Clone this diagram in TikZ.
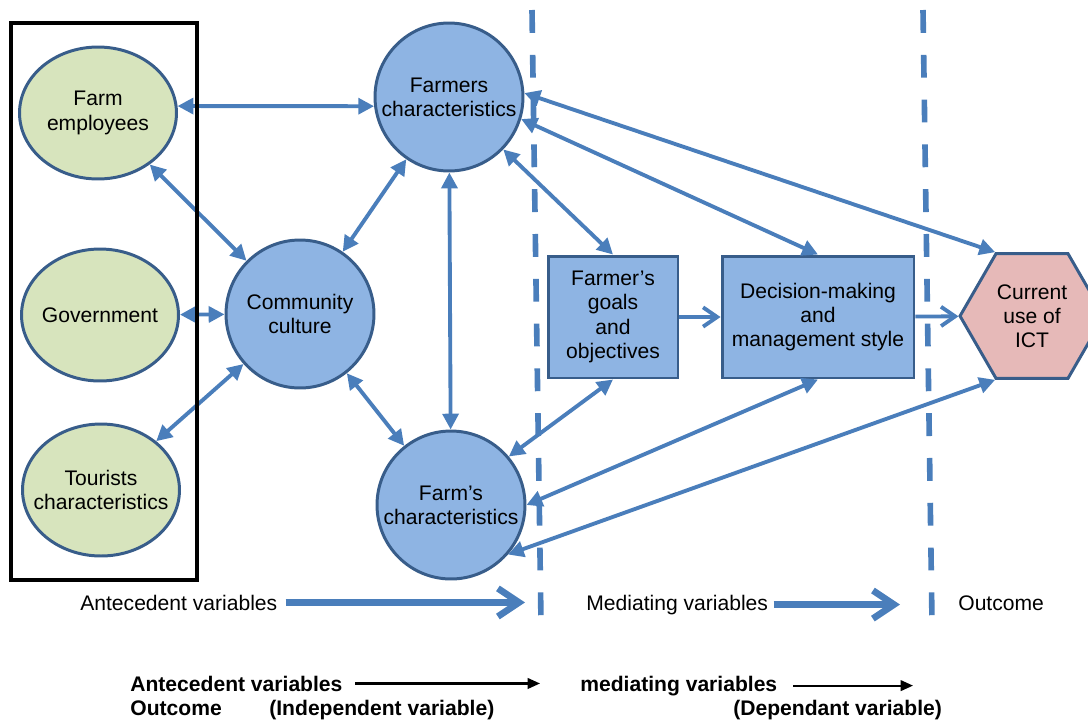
\documentclass[tikz,border=0pt]{standalone}
\usepackage{fontspec}
\setmainfont{Liberation Sans}
\usetikzlibrary{arrows.meta,shapes.geometric}
\definecolor{LinkBlue}{HTML}{4A7EBB}
\definecolor{BorderBlue}{HTML}{385D8A}
\definecolor{FillGreen}{HTML}{D7E4BD}
\definecolor{FillBlue}{HTML}{8EB4E3}
\definecolor{FillPink}{HTML}{E6B9B8}

\begin{document}
\begin{tikzpicture}[x=0.02cm,y=-0.02cm,font=\fontsize{12}{13.8}\selectfont,
        actornode/.style={ellipse,draw=BorderBlue,fill=FillGreen,line width=1.7pt,minimum width=3.14cm,minimum height=2.64cm,inner xsep=-9pt,inner ysep=0pt,align=center},
        factornode/.style={circle,draw=BorderBlue,fill=FillBlue,line width=1.7pt,minimum size=2.96cm,inner sep=0pt,align=center},
        stagebox/.style={rectangle,draw=BorderBlue,fill=FillBlue,line width=1.7pt,minimum height=2.44cm,inner sep=0pt,align=center},
        resulthex/.style={regular polygon,regular polygon sides=6,draw=BorderBlue,fill=FillPink,line width=1.7pt,minimum size=2.88cm,inner sep=0pt,align=center},
        twoway/.style={{Triangle[length=9pt,width=9pt]}-{Triangle[length=9pt,width=9pt]},draw=LinkBlue,line width=2.2pt},
        oneway/.style={-{Straight Barb[length=8pt,width=11pt]},draw=LinkBlue,line width=2.2pt},
        phasearrow/.style={-{Straight Barb[length=12pt,width=16pt]},draw=LinkBlue,line width=3.8pt},
        keyarrow/.style={-{Triangle[length=7pt,width=6pt]},line width=1.2pt},
        divider/.style={draw=LinkBlue,line width=3.2pt,dash pattern=on 13pt off 12.5pt},
        lbl/.style={inner sep=0pt,anchor=base west},
        boldlbl/.style={lbl,font=\fontsize{12}{13.8}\selectfont\bfseries}]
        \useasboundingbox (0,0) rectangle (1088,721);
        % antecedents
        \node[actornode] (femp) at (98,113) {Farm\\employees};
        \node[actornode] (gov) at (100,315) {Government};
        \node[actornode] (tour) at (101,490) {Tourists\\characteristics};
        \node[factornode] (comm) at (300,314) {Community\\culture};
        \node[factornode] (fchar) at (449,97) {Farmers\\characteristics};
        \node[factornode] (farms) at (451,505) {Farm’s\\characteristics};
        % mediating and outcome
        \node[stagebox,minimum width=2.6cm] (goals) at (613,317) {Farmer’s\\goals\\and\\objectives};
        \node[stagebox,minimum width=3.84cm] (dec) at (818,317) {Decision-making\\and\\management style};
        \node[resulthex] (hex) at (1032,316) {Current\\use of\\ICT};
        \draw[twoway] (femp.5) -- (fchar.187);
        \draw[twoway] (femp) -- (comm);\draw[twoway] (gov) -- (comm);\draw[twoway] (tour) -- (comm);
        \draw[twoway] (comm) -- (fchar);\draw[twoway] (comm) -- (farms);\draw[twoway] (fchar) -- (farms);
        \draw[twoway] (fchar.-44) -- (goals.north);
        \draw[twoway] (fchar.-17) -- (dec.north);
        \draw[twoway] (fchar.3) -- (hex.120);
        \draw[twoway] (farms.40) -- (goals.south);
        \draw[twoway] (farms.0) -- (dec.south);
        \draw[twoway] (farms.-41) -- (hex.240);
        \draw[oneway] (goals) -- (dec);\draw[oneway] (dec) -- (hex);
        \draw[line width=2.2pt] (11,23) rectangle (197,580);
        \draw[divider] (532,10) -- (541,622);
        \draw[divider] (923,10) -- (932,622);
        % legend rows
        \node[lbl] (antA) at (80,610) {Antecedent variables};
        \node[lbl] (medA) at (586,610) {Mediating variables};
        \node[lbl] (outA) at (958,610) {Outcome};
        \coordinate (antAEnd) at (525,603);
        \coordinate (medAEnd) at (900,603);
        \draw[phasearrow,shorten <=4.5pt] (antA.east) -- (antA.east -| antAEnd);
        \draw[phasearrow,shorten <=3pt] (medA.east) -- (medA.east -| medAEnd);
        \node[boldlbl] (antB) at (130,691) {Antecedent variables};
        \node[boldlbl] (medB) at (580,691) {mediating variables};
        \node[boldlbl] (outB) at (130,715) {Outcome};
        \node[boldlbl] (indB) at (269,715) {(Independent variable)};
        \node[boldlbl] (depB) at (733,715) {(Dependant variable)};
        \coordinate (antBEnd) at (540,686);
        \coordinate (medBEnd) at (913,686);
        \draw[keyarrow,shorten <=7pt] (antB.east) -- (antB.east -| antBEnd);
        \draw[keyarrow,shorten <=9pt] (medB.east) -- (medB.east -| medBEnd);
\end{tikzpicture}
\end{document}
